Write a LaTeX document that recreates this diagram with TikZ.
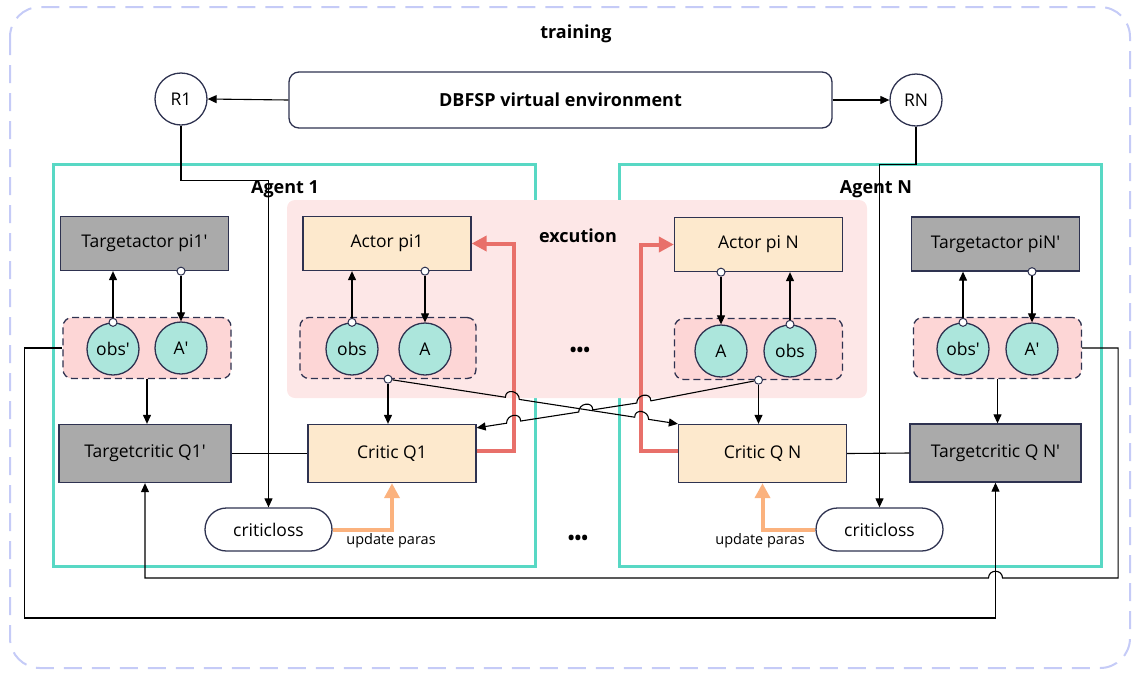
\documentclass[tikz,border=0pt]{standalone}
\usepackage{fontspec}
\setmainfont{Open Sans}
\usetikzlibrary{arrows.meta,calc}

\definecolor{navy}{RGB}{46,50,80}
\definecolor{boxgray}{RGB}{170,170,170}
\definecolor{netbeige}{RGB}{253,233,205}
\definecolor{varteal}{RGB}{172,230,220}
\definecolor{grppink}{RGB}{253,214,214}
\definecolor{exepink}{RGB}{253,231,231}
\definecolor{agentteal}{RGB}{88,216,196}
\definecolor{upred}{RGB}{232,112,106}
\definecolor{updorange}{RGB}{251,178,126}
\definecolor{outerblue}{RGB}{197,203,247}

\begin{document}
\begin{tikzpicture}[x=1pt,y=-1pt,>={Triangle[length=9pt,width=8pt]},line width=1.1pt,
    every node/.style={font=\fontsize{17.5}{21}\selectfont},
    box/.style={draw=navy,line width=1.3pt,minimum width=168,minimum height=54,inner sep=0pt},
    target node/.style={box,fill=boxgray},
    net node/.style={box,fill=netbeige},
    var node/.style={circle,draw=navy,line width=1.3pt,fill=varteal,minimum size=52,inner sep=0pt},
    group node/.style={draw=navy,dash pattern=on 7pt off 4pt,line width=1.3pt,rounded corners=9,
                       fill=grppink,minimum width=168,minimum height=61},
    port/.style={circle,draw=navy,line width=1pt,fill=white,minimum size=8,inner sep=0pt},
    loss node/.style={draw=navy,line width=1.3pt,rounded corners=21.5,minimum width=127,minimum height=43},
    reward node/.style={circle,draw=navy,line width=1.3pt,minimum size=52,inner sep=0pt},
    agent node/.style={draw=agentteal,line width=3pt,minimum width=482,minimum height=402,inner sep=0pt},
    title/.style={font=\fontsize{18}{21}\selectfont\bfseries},
    small/.style={font=\fontsize{14.5}{17}\selectfont},
    red arrow/.style={-{Triangle[length=15pt,width=15pt]},draw=upred,line width=4pt},
    orange arrow/.style={-{Triangle[length=15pt,width=15pt]},draw=updorange,line width=4pt}]
  \useasboundingbox (0,0) rectangle (1134,673);
  \draw[outerblue,line width=2pt,dash pattern=on 18pt off 10pt,rounded corners=30] (10,7) rectangle (1130,668);

  % agents and execution area
  \node[agent node] (ag1) at (294,365) {};
  \node[agent node] (agN) at (860,365) {};
  \node[fill=exepink,rounded corners=8,minimum width=580,minimum height=198] (ex) at (577,299) {};
  \node[title] (train) at (576,34) {training};
  \node[title] (exc) at (578,236) {excution};
  \node[title] (ag1t) at (285,189) {Agent 1};
  \node[title] (agNt) at (876,189) {Agent N};

  \node[draw=navy,line width=1.3pt,rounded corners=10,minimum width=543,minimum height=56,
        title] (env) at (560.5,100) {DBFSP virtual environment};
  \node[reward node] (r1) at (181,99) {R1};
  \node[reward node] (rN) at (916,100) {RN};

  \node[target node] (ta1) at (144.5,243.5) {Targetactor pi1\textquotesingle};
  \node[net node] (ac1) at (387,243.5) {Actor pi1};
  \node[net node] (acN) at (758.5,244.5) {Actor pi N};
  \node[target node] (taN) at (995.5,244) {Targetactor piN\textquotesingle};

  \node[group node] (tg1) at (147,348) {};
  \node[group node,minimum width=176] (eg1) at (388,348) {};
  \node[group node] (egN) at (758.5,349) {};
  \node[group node] (tgN) at (997.5,348) {};

  \node[var node] (os1) at (113,349) {obs\textquotesingle};
  \node[var node] (ap1) at (181,348) {A\textquotesingle};
  \node[var node] (ob1) at (352,349) {obs};
  \node[var node] (a1) at (425,349) {A};
  \node[var node] (aN) at (721,351) {A};
  \node[var node] (obN) at (790,351) {obs};
  \node[var node] (osN) at (963,349) {obs\textquotesingle};
  \node[var node] (apN) at (1032,349) {A\textquotesingle};

  \node[target node,minimum width=172,minimum height=58] (tc1) at (145,453.5) {Targetcritic Q1\textquotesingle};
  \node[net node,minimum height=58] (cq1) at (392,453.5) {Critic Q1};
  \node[net node,minimum height=58] (cqN) at (762.5,453.5) {Critic Q N};
  \node[target node,minimum width=171,minimum height=58] (tcN) at (995.5,453) {Targetcritic Q N\textquotesingle};

  \node[loss node] (cl1) at (268.5,529.5) {criticloss};
  \node[loss node] (clN) at (879.5,529.5) {criticloss};
  \node[small] (up1) at (391,541) {update paras};
  \node[small] (upN) at (760,541) {update paras};
  \node[title] (dots1) at (580,352) {•••};
  \node[title] (dots2) at (578,540) {•••};

  % ports
  \node[port] (po1) at (os1.north) {};
  \node[port] (pa1) at (ta1.south -| ap1) {};
  \node[port] (po2) at (ob1.north) {};
  \node[port] (pb1) at (ac1.south -| a1) {};
  \node[port] (pe1) at (eg1.south) {};
  \node[port] (pbN) at (acN.south -| aN) {};
  \node[port] (po3) at (obN.north) {};
  \node[port] (peN) at (egN.south) {};
  \node[port] (po4) at (osN.north) {};
  \node[port] (paN) at (taN.south -| apN) {};

  \draw[->] (env.west) -- (r1.east);
  \draw[->] (env.east) -- (rN.west);
  \draw[->] (r1.south) -- ++(0,55) -| (cl1.north);
  \draw[->] (rN.south) -- ++(0,38) -| (clN.north);

  \draw[->] (po1.north) -- (po1.north |- ta1.south);
  \draw[->] (pa1.south) -- (pa1.south |- ap1.north);
  \draw[->] (po2.north) -- (po2.north |- ac1.south);
  \draw[->] (pb1.south) -- (pb1.south |- a1.north);
  \draw[->] (po3.north) -- (po3.north |- acN.south);
  \draw[->] (pbN.south) -- (pbN.south |- aN.north);
  \draw[->] (po4.north) -- (po4.north |- taN.south);
  \draw[->] (paN.south) -- (paN.south |- apN.north);

  \draw[->] (tg1.south) -- (tg1.south |- tc1.north);
  \draw[->] (tgN.south) -- (tgN.south |- tcN.north);
  \draw[->] (pe1.south) -- (pe1.south |- cq1.north);
  \draw[->] (peN.south) -- (peN.south |- cqN.north);
  \draw (tc1.east) -- (cq1.west);
  \draw (cqN.east) -- (tcN.west);

  \draw[red arrow] ($(cq1.east)+(0,-3)$) -- ++(37,0) |- (ac1.east);
  \draw[red arrow] ($(cqN.west)+(0,-3)$) -- ++(-37,0) |- (acN.west);
  \draw[orange arrow] (cl1.east) -| (cq1.south);
  \draw[orange arrow] (clN.west) -| (cqN.south);

  % crossing lines with hops
  \draw[->] (pe1) -- ($(pe1)!0.405!(cqN.north west)$)
    .. controls +(0,-9) and +(0,-9) .. ($(pe1)!0.453!(cqN.north west)$)
    -- ($(pe1)!0.851!(cqN.north west)$)
    .. controls +(0,-9) and +(0,-9) .. ($(pe1)!0.899!(cqN.north west)$)
    -- (cqN.north west);
  \draw[->] (peN) -- ($(peN)!0.382!(cq1.north east)+(0,4)$)
    .. controls +(0,-9) and +(0,-9) .. ($(peN)!0.432!(cq1.north east)+(0,4)$)
    -- ($(peN)!0.588!(cq1.north east)+(0,4)$)
    .. controls +(0,-9) and +(0,-9) .. ($(peN)!0.638!(cq1.north east)+(0,4)$)
    -- ($(peN)!0.844!(cq1.north east)+(0,4)$)
    .. controls +(0,-9) and +(0,-9) .. ($(peN)!0.894!(cq1.north east)+(0,4)$)
    -- ($(cq1.north east)+(0,4)$);

  \draw[->] (tg1.west) -- ++(-38,0) |- (tcN.south |- 0,618) -- (tcN.south);
  \draw[->] (tgN.east) -- ++(36,0) |- ($(tcN.south |- 0,578)+(7,0)$)
    .. controls +(0,-9) and +(0,-9) .. ($(tcN.south |- 0,578)+(-7,0)$) -| (tc1.south);
\end{tikzpicture}
\end{document}
